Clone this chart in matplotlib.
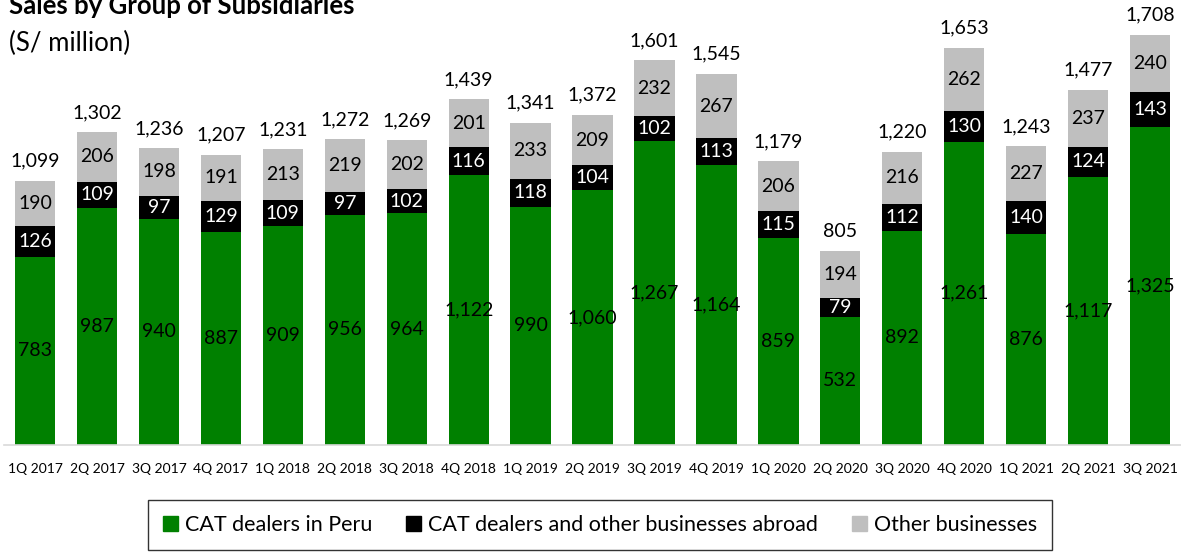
import matplotlib
matplotlib.use("Agg")
import matplotlib.pyplot as plt
from matplotlib.patches import Patch

quarters = ["1Q 2017", "2Q 2017", "3Q 2017", "4Q 2017", "1Q 2018", "2Q 2018", "3Q 2018",
            "4Q 2018", "1Q 2019", "2Q 2019", "3Q 2019", "4Q 2019", "1Q 2020", "2Q 2020",
            "3Q 2020", "4Q 2020", "1Q 2021", "2Q 2021", "3Q 2021"]
cat_peru = [783, 987, 940, 887, 909, 956, 964, 1122, 990, 1060, 1267, 1164, 859, 532, 892, 1261, 876, 1117, 1325]
cat_abroad = [126, 109, 97, 129, 109, 97, 102, 116, 118, 104, 102, 113, 115, 79, 112, 130, 140, 124, 143]
other = [190, 206, 198, 191, 213, 219, 202, 201, 233, 209, 232, 267, 206, 194, 216, 262, 227, 237, 240]
totals = [1099, 1302, 1236, 1207, 1231, 1272, 1269, 1439, 1341, 1372, 1601, 1545, 1179, 805, 1220, 1653, 1243, 1477, 1708]
series_names = ["CAT dealers in Peru", "CAT dealers and other businesses abroad", "Other businesses"]

plt.rcParams['font.family'] = ['Lato', 'DejaVu Sans']
GREEN = "#008000"
BLACK = "#000000"
GRAY = "#BFBFBF"

fig = plt.figure(figsize=(11.81, 5.56), dpi=100)
ax = fig.add_axes([0.0035, 0.2, 0.9965, 0.8])
x = list(range(len(quarters)))
w = 0.65
ax.bar(x, cat_peru, w, color=GREEN)
ax.bar(x, cat_abroad, w, bottom=cat_peru, color=BLACK)
bottom3 = [a + b for a, b in zip(cat_peru, cat_abroad)]
ax.bar(x, other, w, bottom=bottom3, color=GRAY)

fs = 14
for i in x:
    ax.text(i, cat_peru[i] / 2, f"{cat_peru[i]:,}", ha="center", va="center", fontsize=fs, color="black")
    ax.text(i, cat_peru[i] + cat_abroad[i] / 2, f"{cat_abroad[i]:,}", ha="center", va="center", fontsize=fs, color="white")
    ax.text(i, bottom3[i] + other[i] / 2, f"{other[i]:,}", ha="center", va="center", fontsize=fs, color="black")
    ax.text(i, bottom3[i] + other[i] + 82, f"{totals[i]:,}", ha="center", va="center", fontsize=fs, color="black")

ax.set_xlim(-0.5, len(quarters) - 0.5)
ax.set_ylim(0, 1852)
for s in ["top", "right", "left"]:
    ax.spines[s].set_visible(False)
ax.spines["bottom"].set_color("#D9D9D9")
ax.spines["bottom"].set_linewidth(1.2)
ax.set_yticks([])
ax.set_xticks(x)
ax.set_xticklabels(quarters, fontsize=10)
ax.tick_params(axis="x", length=0, pad=13)

fig.text(0.008, 0.99, "Sales by Group of Subsidiaries", fontsize=18.5, fontweight="bold", va="center", ha="left")
fig.text(0.008, 0.922, "(S/ million)", fontsize=18.5, va="center", ha="left")

handles = [Patch(color=GREEN), Patch(color=BLACK), Patch(color=GRAY)]
leg = fig.legend(handles, series_names, loc="center", bbox_to_anchor=(0.508, 0.055), ncol=3,
                 fontsize=15.5, frameon=True, fancybox=False, edgecolor="black",
                 handlelength=0.7, handleheight=0.7, handletextpad=0.3, columnspacing=1.6,
                 borderpad=0.7)
leg.get_frame().set_linewidth(1.0)

fig.savefig("out.png", dpi=100)
